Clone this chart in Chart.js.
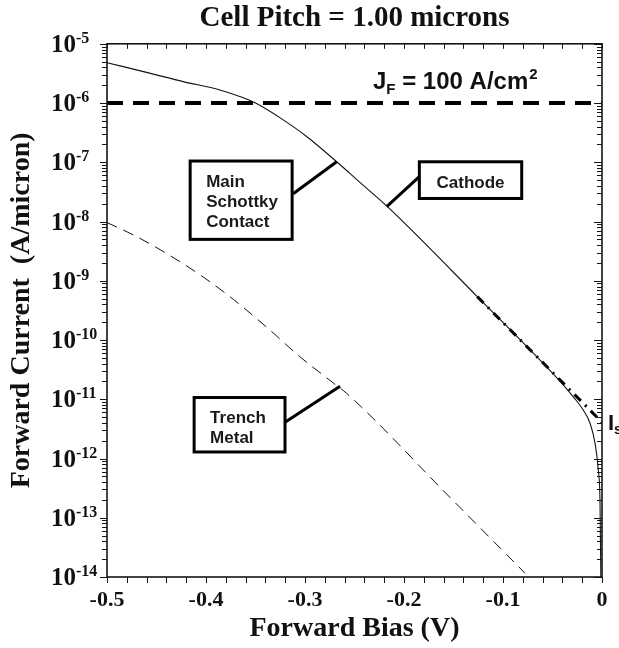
<!DOCTYPE html>
<html>
<head>
<meta charset="utf-8">
<script src="https://cdn.jsdelivr.net/npm/chart.js@4/dist/chart.umd.min.js"></script>
<style>
  html, body { margin: 0; padding: 0; background: #fff; }
  #wrap { width: 619px; height: 648px; }
</style>
</head>
<body>
<div id="wrap"><canvas id="c" width="619" height="648"></canvas></div>
<script>
// ---- data ----
const cathodeBias = [-0.5, -0.457, -0.423, -0.386, -0.366, -0.349, -0.322, -0.298, -0.268, -0.244, -0.217, -0.126, -0.039, -0.029, -0.019, -0.012, -0.007, -0.0037, -0.002, -0.0012];
const cathodeCurrent = [4.8e-6, 3.2e-6, 2.3e-6, 1.66e-6, 1.29e-6, 9.8e-7, 5.2e-7, 2.7e-7, 1.02e-7, 4.5e-8, 1.8e-8, 5.4e-10, 1.74e-11, 1.1e-11, 6.6e-12, 3.9e-12, 1.8e-12, 6.3e-13, 1.8e-13, 1.0e-14];
const trenchBias = [-0.5, -0.473, -0.440, -0.406, -0.372, -0.339, -0.305, -0.271, -0.258, -0.1535, -0.078];
const trenchCurrent = [9.6e-9, 5.9e-9, 2.9e-9, 1.26e-9, 4.8e-10, 1.66e-10, 5.2e-11, 1.86e-11, 1.26e-11, 2.2e-13, 1.17e-14];
const isLineBias = [-0.126, 0];
const isLineCurrent = [5.4e-10, 4.1e-12];
const jfBias = [-0.5, 0];
const jfCurrent = [1e-6, 1e-6];
const yTickValues = [1e-14, 1e-13, 1e-12, 1e-11, 1e-10, 1e-9, 1e-8, 1e-7, 1e-6, 1e-5];
const yTickBase = '10';
const yTickExponents = ['-14', '-13', '-12', '-11', '-10', '-9', '-8', '-7', '-6', '-5'];
const xTickLabels = ['-0.5', '-0.4', '-0.3', '-0.2', '-0.1', '0'];

function pts(xs, ys) { return xs.map((x, i) => ({ x: x, y: ys[i] })); }

// ---- annotation layout (data coordinates) ----
const boxes = [
  { x0: -0.416, x1: -0.313, y0: 1.05e-7, y1: 5.0e-9, lines: ['Main', 'Schottky', 'Contact'], align: 'left', textDx: 16, firstDy: 26, lineGap: 20,
    leader: [[-0.312, 2.95e-8], [-0.268, 1.02e-7]] },
  { x0: -0.1845, x1: -0.0811, y0: 1.02e-7, y1: 2.45e-8, lines: ['Cathode'], align: 'center', textDx: 0, firstDy: 26, lineGap: 20,
    leader: [[-0.1845, 5.75e-8], [-0.2175, 1.78e-8]] },
  { x0: -0.412, x1: -0.3202, y0: 1.07e-11, y1: 1.29e-12, lines: ['Trench', 'Metal'], align: 'left', textDx: 16, firstDy: 25, lineGap: 20,
    leader: [[-0.3202, 4.1e-12], [-0.2646, 1.66e-11]] }
];

const SERIF = '"Liberation Serif", "Times New Roman", serif';
const SANS = '"Liberation Sans", Arial, Helvetica, sans-serif';
const INK = '#141414';

const frameTicks = {
  id: 'frameTicks',
  afterDatasetsDraw(chart) {
    const { ctx, chartArea: a, scales: { x, y } } = chart;
    ctx.save();
    ctx.strokeStyle = INK;
    ctx.lineWidth = 1;
    ctx.beginPath();
    for (let k = 0; k <= 25; k++) {
      const v = -0.5 + k * 0.02;
      const px = Math.round(x.getPixelForValue(v)) + 0.5;
      ctx.moveTo(px, a.bottom); ctx.lineTo(px, a.bottom + 6);
      ctx.moveTo(px, a.top); ctx.lineTo(px, a.top + 5);
    }
    for (let e = -14; e <= -5; e++) {
      for (let m = 1; m <= 9; m++) {
        const v = m * Math.pow(10, e);
        if (v > 1.0001e-5) break;
        const py = Math.round(y.getPixelForValue(v)) + 0.5;
        const len = m === 1 ? 8 : 5;
        ctx.moveTo(a.left, py); ctx.lineTo(a.left - (m === 1 ? 7 : 5), py);
        ctx.moveTo(a.right, py); ctx.lineTo(a.right - len, py);
      }
    }
    ctx.stroke();
    ctx.lineWidth = 1.6;
    ctx.strokeRect(a.left, a.top, a.right - a.left, a.bottom - a.top);
    // y tick labels with superscript exponents (left aligned column)
    ctx.fillStyle = '#111';
    ctx.textAlign = 'left';
    ctx.textBaseline = 'alphabetic';
    yTickValues.forEach((v, i) => {
      const py = y.getPixelForValue(v);
      const x0 = a.left - 56;
      ctx.font = 'bold 25px ' + SERIF;
      const wb = ctx.measureText(yTickBase).width;
      ctx.fillText(yTickBase, x0, py + 8);
      ctx.font = 'bold 16px ' + SERIF;
      ctx.fillText(yTickExponents[i], x0 + wb, py - 1);
    });
    ctx.restore();
  }
};

const annotations = {
  id: 'annotations',
  afterDraw(chart) {
    const { ctx, scales: { x, y } } = chart;
    ctx.save();
    ctx.strokeStyle = '#000';
    boxes.forEach(b => {
      const l = x.getPixelForValue(b.x0), r = x.getPixelForValue(b.x1);
      const t = y.getPixelForValue(b.y0), btm = y.getPixelForValue(b.y1);
      ctx.fillStyle = '#fff';
      ctx.fillRect(l, t, r - l, btm - t);
      ctx.lineWidth = 3;
      ctx.strokeRect(l, t, r - l, btm - t);
      ctx.beginPath();
      ctx.moveTo(x.getPixelForValue(b.leader[0][0]), y.getPixelForValue(b.leader[0][1]));
      ctx.lineTo(x.getPixelForValue(b.leader[1][0]), y.getPixelForValue(b.leader[1][1]));
      ctx.stroke();
      ctx.fillStyle = '#1a1a1a';
      ctx.font = 'bold 17px ' + SANS;
      ctx.textBaseline = 'alphabetic';
      ctx.textAlign = b.align;
      b.lines.forEach((s, i) => {
        const tx = b.align === 'center' ? (l + r) / 2 : l + b.textDx;
        ctx.fillText(s, tx, t + b.firstDy + i * b.lineGap);
      });
    });
    // J_F label
    ctx.textAlign = 'left';
    ctx.fillStyle = '#111';
    let px = x.getPixelForValue(-0.2313), py = y.getPixelForValue(1.75e-6);
    ctx.font = 'bold 24px ' + SANS;
    ctx.fillText('J', px, py); px += ctx.measureText('J').width;
    ctx.font = 'bold 15px ' + SANS;
    ctx.fillText('F', px, py + 5); px += ctx.measureText('F').width;
    ctx.font = 'bold 24px ' + SANS;
    ctx.fillText(' = 100 A/cm', px, py); px += ctx.measureText(' = 100 A/cm').width;
    ctx.font = 'bold 15px ' + SANS;
    ctx.fillText('2', px + 1, py - 10);
    // I_s label
    px = x.getPixelForValue(0) + 6; py = y.getPixelForValue(4.1e-12) + 8;
    ctx.font = 'bold 22px ' + SANS;
    ctx.fillText('I', px, py); px += ctx.measureText('I').width;
    ctx.font = 'bold 15px ' + SANS;
    ctx.fillText('s', px, py + 4);
    ctx.restore();
  }
};

new Chart(document.getElementById('c'), {
  type: 'line',
  data: {
    datasets: [
      { label: 'Cathode', data: pts(cathodeBias, cathodeCurrent), borderColor: INK, borderWidth: 1.1,
        pointRadius: 0, cubicInterpolationMode: 'monotone', fill: false },
      { label: 'Trench Metal', data: pts(trenchBias, trenchCurrent), borderColor: INK, borderWidth: 1,
        borderDash: [11, 7], pointRadius: 0, cubicInterpolationMode: 'monotone', fill: false },
      { label: 'Is extrapolation', data: pts(isLineBias, isLineCurrent), borderColor: '#000', borderWidth: 3,
        borderDash: [9, 6, 2, 6], pointRadius: 0, tension: 0, fill: false },
      { label: 'JF = 100 A/cm2', data: pts(jfBias, jfCurrent), borderColor: '#000', borderWidth: 4,
        borderDash: [16, 10], pointRadius: 0, tension: 0, fill: false }
    ]
  },
  options: {
    responsive: false,
    animation: false,
    devicePixelRatio: 1,
    layout: { padding: { top: 0, right: 17, left: 0, bottom: 0 } },
    plugins: {
      legend: { display: false },
      tooltip: { enabled: false },
      title: {
        display: true, text: 'Cell Pitch = 1.00 microns', color: '#111', fullSize: false,
        font: { family: SERIF, size: 29, weight: 'bold' }, padding: { top: 1, bottom: 8 }
      }
    },
    scales: {
      x: {
        type: 'linear', min: -0.5, max: 0,
        afterFit(s) { s.height = 71; },
        grid: { display: false, drawTicks: false },
        border: { display: false },
        ticks: {
          stepSize: 0.1, padding: 10, color: '#111',
          font: { family: SERIF, size: 22, weight: 'bold' },
          callback(v) { const i = Math.round((v + 0.5) / 0.1); return xTickLabels[i]; }
        },
        title: { display: true, text: 'Forward Bias (V)', color: '#111',
          font: { family: SERIF, size: 28, weight: 'bold' }, padding: { top: 0, bottom: 2 } }
      },
      y: {
        type: 'logarithmic', min: 1e-14, max: 1e-5,
        afterFit(s) { s.width = 107; },
        afterBuildTicks(s) { s.ticks = yTickValues.map(v => ({ value: v, major: true })); },
        grid: { display: false, drawTicks: false },
        border: { display: false },
        ticks: { display: false },
        title: { display: true, text: 'Forward Current  (A/micron)', color: '#111',
          font: { family: SERIF, size: 28, weight: 'bold' }, padding: { top: 5, bottom: 0 } }
      }
    }
  },
  plugins: [frameTicks, annotations]
});
</script>
</body>
</html>
